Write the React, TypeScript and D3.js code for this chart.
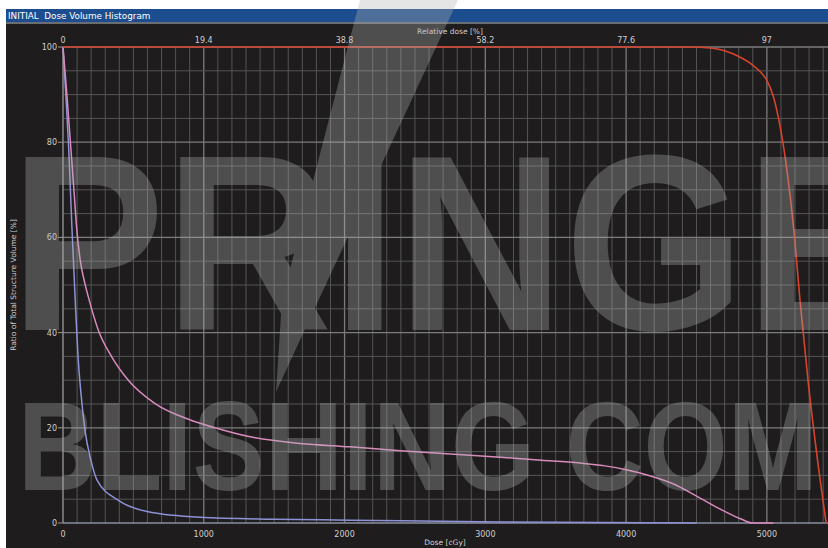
import React from "react";
import * as d3 from "d3";

const W = 828;
const H = 548;

const doseTicks = [0, 1000, 2000, 3000, 4000, 5000];
const relTickLabels = ["0", "19.4", "38.8", "58.2", "77.6", "97"];
const volTicks = [0, 20, 40, 60, 80, 100];

const redDose = [0, 4450, 4600, 4700, 4800, 4900, 4960, 5000, 5046, 5096, 5143, 5190, 5238, 5292, 5350, 5421];
const redVol = [100, 100, 99.8, 99.2, 98, 96.2, 94.6, 93, 89.6, 83, 74, 62, 46, 30, 15.5, 0];

const pinkDose = [0, 25, 50, 75, 97, 121, 150, 180, 251, 346, 464, 654, 891, 1080, 1329, 1684, 2040, 2395, 2750, 3106, 3400, 3674, 3850, 4000, 4149, 4338, 4504, 4670, 4812, 4900, 5046];
const pinkVol = [100, 91, 81, 71, 62, 55.5, 51, 47.5, 40.5, 34.9, 30, 25.1, 21.8, 20.0, 18.1, 16.7, 16, 15.2, 14.5, 13.8, 13.2, 12.6, 12.0, 11.2, 10.1, 8.2, 5.6, 2.9, 0.9, 0, 0];

const blueDose = [0, 20, 40, 62, 85, 109, 135, 156, 200, 242, 391, 597, 974, 1500, 2040, 3106, 4500];
const blueVol = [100, 90, 79, 63, 48, 34, 25, 19.5, 13, 9, 4.8, 2.4, 1.2, 0.8, 0.6, 0.2, 0];

const x = d3.scaleLinear().domain([0, 5420]).range([63, 826]);
const y = d3.scaleLinear().domain([0, 100]).range([523, 47]);

const line = d3
  .line<[number, number]>()
  .x((d) => x(d[0]))
  .y((d) => y(d[1]))
  .curve(d3.curveMonotoneX);

const zip = (a: number[], b: number[]) => a.map((v, i) => [v, b[i]] as [number, number]);

const gridX = d3.range(100, 5500, 100);
const gridY = d3.range(5, 101, 5);

const FONT = "DejaVu Sans, Verdana, sans-serif";

export default function App() {
  return (
    <svg
      width={W}
      height={H}
      style={{ position: "absolute", left: 0, top: 0, background: "#ffffff" }}
    >
      <rect x={0} y={0} width={W} height={H} fill="#ffffff" />
      <rect x={6} y={22} width={W - 6} height={H - 22} fill="#1e1c1d" />
      <rect x={6} y={9} width={W - 6} height={13} fill="#1c4e8f" />
      <rect x={6} y={22} width={W - 6} height={2} fill="#6a6d72" />
      <text x={8} y={19} fontFamily={FONT} fontSize={8.8} fill="#ffffff">
        INITIAL&#160;&#160;Dose Volume Histogram
      </text>

      {/* grid */}
      {gridX.map((d) => (
        <line
          key={"gx" + d}
          x1={x(d)}
          x2={x(d)}
          y1={y(100)}
          y2={y(0)}
          stroke={d % 1000 === 0 ? "#7d7d7d" : "#555555"}
          strokeWidth={d % 1000 === 0 ? 1.3 : 1}
        />
      ))}
      {gridY.map((v) => (
        <line
          key={"gy" + v}
          x1={x(0)}
          x2={W}
          y1={y(v)}
          y2={y(v)}
          stroke={v % 20 === 0 ? "#7d7d7d" : "#555555"}
          strokeWidth={v % 20 === 0 ? 1.3 : 1}
        />
      ))}

      {/* axes */}
      <line x1={x(0)} x2={x(0)} y1={y(100)} y2={y(0)} stroke="#8a8a8a" strokeWidth={1.5} />
      <line x1={x(0)} x2={W} y1={y(0)} y2={y(0)} stroke="#8a8f9c" strokeWidth={1.5} />
      {volTicks.map((v) => (
        <g key={"yt" + v}>
          <line x1={x(0) - 5} x2={x(0)} y1={y(v)} y2={y(v)} stroke="#9a9a9a" strokeWidth={1} />
          <text
            x={x(0) - 6}
            y={y(v) + 3}
            textAnchor="end"
            fontFamily={FONT}
            fontSize={8}
            fill="#cfcfcf"
          >
            {v}
          </text>
        </g>
      ))}
      {doseTicks.map((d, i) => (
        <g key={"xt" + d}>
          <text x={x(d)} y={537} textAnchor="middle" fontFamily={FONT} fontSize={8} fill="#cfcfcf">
            {d}
          </text>
          <text x={x(d)} y={43} textAnchor="middle" fontFamily={FONT} fontSize={8} fill="#cfcfcf">
            {relTickLabels[i]}
          </text>
        </g>
      ))}
      <text x={450} y={34} textAnchor="middle" fontFamily={FONT} fontSize={7.5} fill="#cfcfcf">
        Relative dose [%]
      </text>
      <text x={445} y={545} textAnchor="middle" fontFamily={FONT} fontSize={7.5} fill="#cfcfcf">
        Dose [cGy]
      </text>
      <text
        transform="translate(16,285) rotate(-90)"
        textAnchor="middle"
        fontFamily={FONT}
        fontSize={7.5}
        fill="#cfcfcf"
      >
        Ratio of Total Structure Volume [%]
      </text>

      {/* curves */}
      <path d={line(zip(blueDose, blueVol)) || ""} fill="none" stroke="#8d92d6" strokeWidth={1.5} />
      <path d={line(zip(pinkDose, pinkVol)) || ""} fill="none" stroke="#d98bbd" strokeWidth={1.5} />
      <path d={line(zip(redDose, redVol)) || ""} fill="none" stroke="#d8432c" strokeWidth={1.6} />

      {/* watermark */}
      <g fill="#b3b3b3" opacity={0.33} style={{ pointerEvents: "none" }}>
        <polygon points="360,0 458,0 300,340 276,392 282,300" />
        <text
          x={10}
          y={330}
          fontFamily="Liberation Sans, Arial, sans-serif"
          fontWeight="bold"
          fontSize={250}
          textLength={890}
          lengthAdjust="spacingAndGlyphs"
        >
          PRINGE
        </text>
        <text
          x={18}
          y={490}
          fontFamily="Liberation Sans, Arial, sans-serif"
          fontWeight="bold"
          fontSize={126}
          textLength={800}
          lengthAdjust="spacingAndGlyphs"
        >
          BLISHING COM
        </text>
      </g>
    </svg>
  );
}
